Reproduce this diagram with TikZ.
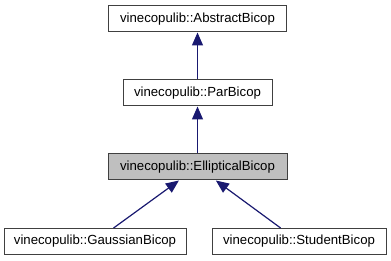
\documentclass[tikz,border=0pt]{standalone}
\usepackage{fontspec}
\setmainfont{Liberation Sans}
\usetikzlibrary{arrows.meta}
\definecolor{edgeblue}{RGB}{25,25,112}
\definecolor{boxgray}{RGB}{191,191,191}
\tikzset{
  classbox/.style={
    draw=black!75,
    line width=1pt,
    fill=white,
    minimum height=26pt,
    inner sep=0pt,
    font=\fontsize{13.2}{15}\selectfont
  },
  classbox-current/.style={
    classbox,
    fill=boxgray
  },
  inherit/.style={
    draw=edgeblue,
    line width=1.2pt,
    -{Triangle[width=11pt,length=13pt,fill=edgeblue]}
  }
}

\begin{document}
\begin{tikzpicture}[x=1pt,y=-1pt]
  \useasboundingbox (0,0) rectangle (391,261);

  % Base classes, one above the other
  \node[classbox, minimum width=178pt] (AbstractBicop) at (197.5,19) {vinecopulib::AbstractBicop};
  \node[classbox, minimum width=149pt] (ParBicop) at (197.5,93) {vinecopulib::ParBicop};
  \node[classbox-current, minimum width=179pt] (EllipticalBicop) at (197.5,167) {vinecopulib::EllipticalBicop};

  % Derived classes
  \node[classbox, minimum width=182pt] (GaussianBicop) at (95,241.5) {vinecopulib::GaussianBicop};
  \node[classbox, minimum width=174pt] (StudentBicop) at (299,241.5) {vinecopulib::StudentBicop};

  % Inheritance edges (arrow points to the parent)
  \draw[inherit] (ParBicop) -- (AbstractBicop);
  \draw[inherit] (EllipticalBicop) -- (ParBicop);
  \draw[inherit] (GaussianBicop) -- (EllipticalBicop);
  \draw[inherit] (StudentBicop) -- (EllipticalBicop);

\end{tikzpicture}
\end{document}
